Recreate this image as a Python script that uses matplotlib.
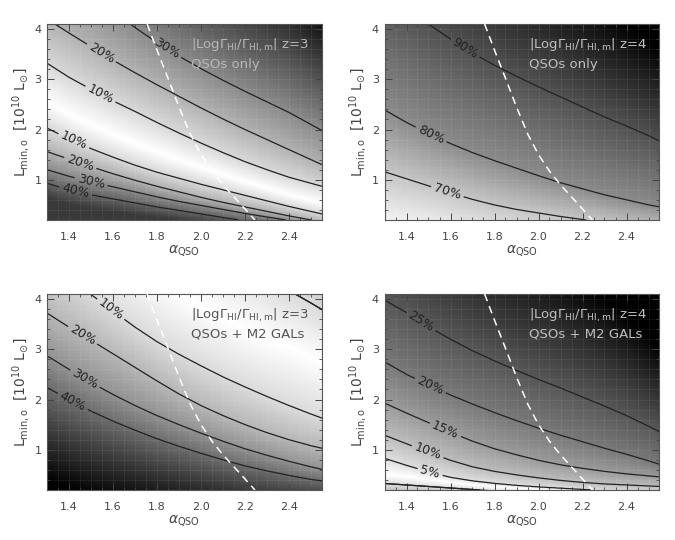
import numpy as np
import matplotlib
matplotlib.use("Agg")
import matplotlib.pyplot as plt
from matplotlib.ticker import MultipleLocator, FormatStrFormatter

# ---------------- data ----------------
ALPHA = [1.3, 1.4, 1.5, 1.6, 1.7, 1.8, 1.9, 2.0, 2.1, 2.2, 2.3, 2.4, 2.5, 2.55]
X_RANGE = (1.3, 2.55)
Y_RANGE = (0.2, 4.1)

# z=3, QSOs only : contour curves L_min(alpha) for each level
tl_levels = [40, 30, 20, 10, 0, 10, 20, 30]
tl_40 = [0.93, 0.80, 0.70, 0.62, 0.54, 0.46, 0.39, 0.32, 0.25, 0.18, 0.12, 0.06, 0.00, -0.03]
tl_30_lo = [1.20, 1.07, 0.96, 0.86, 0.76, 0.66, 0.57, 0.49, 0.41, 0.33, 0.26, 0.19, 0.13, 0.10]
tl_20_lo = [1.56, 1.41, 1.26, 1.12, 0.99, 0.87, 0.76, 0.65, 0.55, 0.46, 0.37, 0.28, 0.20, 0.16]
tl_10_lo = [2.03, 1.81, 1.62, 1.45, 1.29, 1.15, 1.03, 0.91, 0.80, 0.69, 0.58, 0.47, 0.37, 0.32]
tl_ridge = [2.55, 2.30, 2.09, 1.90, 1.72, 1.55, 1.39, 1.24, 1.10, 0.96, 0.83, 0.70, 0.59, 0.54]
tl_10_up = [3.32, 3.04, 2.80, 2.57, 2.36, 2.14, 1.93, 1.73, 1.54, 1.36, 1.20, 1.05, 0.93, 0.87]
tl_20_up = [4.20, 3.92, 3.65, 3.38, 3.13, 2.89, 2.66, 2.43, 2.21, 2.00, 1.80, 1.60, 1.40, 1.30]
tl_30_up = [5.30, 5.00, 4.68, 4.35, 4.03, 3.73, 3.46, 3.21, 2.98, 2.76, 2.55, 2.34, 2.10, 1.98]

# z=4, QSOs only
tr_levels = [70, 80, 90]
tr_70 = [1.16, 1.02, 0.88, 0.74, 0.61, 0.50, 0.41, 0.34, 0.27, 0.21, 0.15, 0.10, 0.06, 0.04]
tr_80 = [2.39, 2.14, 1.92, 1.72, 1.54, 1.38, 1.23, 1.08, 0.94, 0.82, 0.70, 0.60, 0.50, 0.46]
tr_90 = [4.75, 4.42, 4.10, 3.80, 3.52, 3.28, 3.06, 2.85, 2.65, 2.45, 2.25, 2.07, 1.88, 1.77]

# z=3, QSOs + M2 GALs
bl_levels = [40, 30, 20, 10, 0, 10]
bl_40 = [2.24, 2.00, 1.77, 1.57, 1.39, 1.22, 1.07, 0.93, 0.80, 0.68, 0.58, 0.49, 0.41, 0.38]
bl_30 = [2.87, 2.60, 2.34, 2.10, 1.88, 1.68, 1.50, 1.33, 1.17, 1.02, 0.89, 0.77, 0.66, 0.61]
bl_20 = [3.72, 3.44, 3.18, 2.91, 2.64, 2.37, 2.11, 1.88, 1.68, 1.50, 1.34, 1.20, 1.08, 1.03]
bl_10 = [4.80, 4.44, 4.09, 3.76, 3.44, 3.15, 2.90, 2.67, 2.45, 2.25, 2.06, 1.88, 1.71, 1.63]
bl_ridge = [5.90, 5.60, 5.30, 5.00, 4.70, 4.40, 4.10, 3.85, 3.60, 3.40, 3.20, 3.05, 2.85, 2.75]
bl_10_far = [7.45, 7.15, 6.85, 6.55, 6.25, 5.95, 5.65, 5.35, 5.05, 4.75, 4.45, 4.17, 3.92, 3.79]

# z=4, QSOs + M2 GALs
br_levels = [5, 0, 5, 10, 15, 20, 25]
br_5_lo = [0.33, 0.30, 0.27, 0.24, 0.21, 0.18, 0.16, 0.14, 0.12, 0.10, 0.08, 0.06, 0.04, 0.03]
br_ridge = [0.50, 0.46, 0.41, 0.35, 0.30, 0.26, 0.23, 0.20, 0.18, 0.155, 0.13, 0.11, 0.09, 0.08]
br_5 = [0.83, 0.69, 0.56, 0.45, 0.38, 0.33, 0.29, 0.26, 0.235, 0.21, 0.185, 0.16, 0.14, 0.13]
br_10 = [1.29, 1.12, 0.95, 0.79, 0.66, 0.57, 0.50, 0.44, 0.39, 0.35, 0.32, 0.30, 0.28, 0.27]
br_15 = [1.93, 1.73, 1.54, 1.35, 1.17, 1.02, 0.90, 0.79, 0.70, 0.63, 0.57, 0.52, 0.48, 0.46]
br_20 = [2.75, 2.50, 2.29, 2.09, 1.91, 1.74, 1.58, 1.43, 1.29, 1.16, 1.03, 0.91, 0.78, 0.71]
br_25 = [3.98, 3.73, 3.45, 3.20, 2.97, 2.77, 2.58, 2.40, 2.23, 2.05, 1.87, 1.68, 1.47, 1.36]

# white dashed curve (same in every panel)
dash_alpha = [1.755, 1.80, 1.85, 1.90, 1.95, 2.00, 2.05, 2.10, 2.15, 2.20, 2.245]
dash_lmin = [4.10, 3.58, 3.02, 2.45, 1.92, 1.50, 1.17, 0.90, 0.66, 0.42, 0.20]

# contour label positions
tl_labels = [(1.843, 3.60), (1.548, 3.53), (1.54, 2.68), (1.423, 1.79),
             (1.453, 1.36), (1.50, 0.96), (1.43, 0.78)]
tr_labels = [(1.667, 3.62), (1.511, 1.90), (1.587, 0.78)]
bl_labels = [(1.587, 3.78), (1.465, 3.30), (1.473, 2.42), (1.417, 1.96)]
br_labels = [(1.47, 3.58), (1.51, 2.29), (1.576, 1.39), (1.496, 0.96), (1.508, 0.565)]

panel_titles = ["QSOs only", "QSOs only", "QSOs + M2 GALs", "QSOs + M2 GALs"]
panel_z = [3, 4, 3, 4]

# ---------------- helpers ----------------
def column_field(curves, levels, xg, yg, cap_lo=None, cap_hi=None):
    Yc = np.array([np.interp(xg, ALPHA, c) for c in curves])
    Lv = np.asarray(levels, float)
    F = np.empty((yg.size, xg.size))
    for j in range(xg.size):
        order = np.argsort(Yc[:, j])
        ys, ls = Yc[order, j], Lv[order]
        v = np.interp(yg, ys, ls)
        lo = yg < ys[0]
        hi = yg > ys[-1]
        dlo = (yg[lo] - ys[0]) * (ls[1] - ls[0]) / (ys[1] - ys[0])
        dhi = (yg[hi] - ys[-1]) * (ls[-1] - ls[-2]) / (ys[-1] - ys[-2])
        if cap_lo is not None:
            dlo = np.clip(dlo, -cap_lo, cap_lo)
        if cap_hi is not None:
            dhi = np.clip(dhi, -cap_hi, cap_hi)
        v[lo] = ls[0] + dlo
        v[hi] = ls[-1] + dhi
        F[:, j] = v
    return F


W, H = 675, 540
def rect(l, t, r, b):
    return [l / W, 1 - b / H, (r - l) / W, (b - t) / H]

panels = [
    dict(rect=rect(47, 24, 322, 220),
         curves=[tl_40, tl_30_lo, tl_20_lo, tl_10_lo, tl_ridge, tl_10_up, tl_20_up, tl_30_up],
         levels=tl_levels, clev=[10, 20, 30, 40], cap=5, shade_cap=(11, None),
         vmin=0, vmax=66, labels=tl_labels, tcolor="#b8b8b8", extra=[]),
    dict(rect=rect(384.5, 24, 659.5, 220),
         curves=[tr_70, tr_80, tr_90], levels=tr_levels, clev=[70, 80, 90], cap=5,
         shade_cap=(None, None), vmin=60, vmax=104, labels=tr_labels,
         tcolor="#c0c0c0", extra=[]),
    dict(rect=rect(47, 294, 322, 490),
         curves=[bl_40, bl_30, bl_20, bl_10, bl_ridge, bl_10_far],
         levels=bl_levels, clev=[10, 20, 30, 40], cap=5, shade_cap=(None, None),
         vmin=0, vmax=70, labels=bl_labels, tcolor="#555555", extra=[bl_10_far]),
    dict(rect=rect(384.5, 294, 659.5, 490),
         curves=[br_5_lo, br_ridge, br_5, br_10, br_15, br_20, br_25],
         levels=br_levels, clev=[5, 10, 15, 20, 25], cap=2.5, shade_cap=(None, None),
         vmin=0, vmax=38, labels=br_labels, tcolor="#c0c0c0", extra=[br_5_lo]),
]

xg = np.linspace(X_RANGE[0], X_RANGE[1], 260)
yg = np.linspace(Y_RANGE[0], Y_RANGE[1], 400)

fig = plt.figure(figsize=(6.75, 5.4), dpi=100)
axis_col = "#444444"
line_col = "#222222"

for i, p in enumerate(panels):
    ax = fig.add_axes(p["rect"])
    F = column_field(p["curves"], p["levels"], xg, yg,
                     cap_lo=p["shade_cap"][0], cap_hi=p["shade_cap"][1])
    ax.imshow(F, extent=(X_RANGE[0], X_RANGE[1], Y_RANGE[0], Y_RANGE[1]),
              origin="lower", aspect="auto", cmap="gray_r",
              vmin=p["vmin"], vmax=p["vmax"], interpolation="bilinear", zorder=0)
    Fc = column_field(p["curves"], p["levels"], xg, yg, cap_lo=p["cap"], cap_hi=p["cap"])
    cs = ax.contour(xg, yg, Fc, levels=p["clev"], colors=line_col,
                    linewidths=0.9, zorder=2)
    ax.clabel(cs, manual=p["labels"], inline=True, inline_spacing=3,
              fmt=lambda v: f"{v:g}%", fontsize=9)
    for c in p["extra"]:
        ax.plot(ALPHA, c, color=line_col, lw=0.9, zorder=2)
    ax.plot(dash_alpha, dash_lmin, color="white", lw=1.1, dashes=(5, 3.5), zorder=3)

    ax.text(0.525, 0.89,
            r"|Log$\Gamma_{\rm HI}$/$\Gamma_{\rm HI,m}$| z=%d" % panel_z[i],
            transform=ax.transAxes, ha="left", va="center", fontsize=9.5,
            color=p["tcolor"], zorder=4)
    ax.text(0.525, 0.795, panel_titles[i], transform=ax.transAxes,
            ha="left", va="center", fontsize=9.5, color=p["tcolor"], zorder=4)

    ax.set_xlim(*X_RANGE)
    ax.set_ylim(*Y_RANGE)
    ax.xaxis.set_major_locator(MultipleLocator(0.2))
    ax.xaxis.set_minor_locator(MultipleLocator(0.05))
    ax.yaxis.set_major_locator(MultipleLocator(1))
    ax.yaxis.set_minor_locator(MultipleLocator(0.2))
    ax.xaxis.set_major_formatter(FormatStrFormatter("%.1f"))
    ax.yaxis.set_major_formatter(FormatStrFormatter("%d"))
    ax.grid(which="both", color="white", alpha=0.07, lw=0.6)
    ax.tick_params(which="both", direction="in", top=True, right=True,
                   color=axis_col, labelcolor="#444444", labelsize=8)
    ax.tick_params(axis="x", which="both", pad=9)
    ax.tick_params(axis="y", which="both", pad=4)
    ax.tick_params(which="major", length=5, width=0.7)
    ax.tick_params(which="minor", length=2.5, width=0.6)
    for s in ax.spines.values():
        s.set_color("#555555")
        s.set_linewidth(0.8)
    ax.set_xlabel(r"$\alpha_{\rm QSO}$", fontsize=10, color="#444444", labelpad=1)
    ax.set_ylabel(r"L$_{\rm min,o}$  [10$^{10}$ L$_{\odot}$]", fontsize=10,
                  color="#444444", labelpad=2)

fig.savefig("out.png", dpi=100, facecolor="white")
